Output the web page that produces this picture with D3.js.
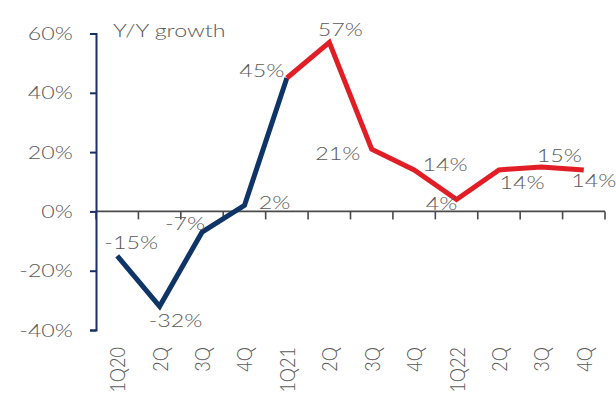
<!DOCTYPE html>
<html>
<head>
<meta charset="utf-8">
<script src="https://cdn.jsdelivr.net/npm/d3@7"></script>
<style>
  html, body { margin: 0; padding: 0; background: #fff; }
  svg { display: block; }
  text { font-family: Lato, "Open Sans", sans-serif; font-weight: 300; fill: #595959; }
</style>
</head>
<body>
<svg id="chart" width="616" height="396"></svg>
<script>
// Quarterly year-over-year growth, %
const quarters = ["1Q20", "2Q", "3Q", "4Q", "1Q21", "2Q", "3Q", "4Q", "1Q22", "2Q", "3Q", "4Q"];
const growth = [-15, -32, -7, 2, 45, 57, 21, 14, 4, 14, 15, 14];
const yTicks = [-40, -20, 0, 20, 40, 60];
// first and last quarter index of each coloured segment
const blueSpan = [0, 4];
const redSpan = [4, 11];
// label nudges (px) relative to each point
const labelDx = [14, 16, -17, 30, -25, 11, -34, 31, -15, 23, 18, 10];
const labelDy = [-7, 21, -2, 4, -1, -6, 11, 1, 10, 19, -5, 17];

const svg = d3.select("#chart");
const fontSize = 17.5;   // horizontal text
const stretch = 1.33;    // wide face
const rotSize = 18;      // rotated category labels
const rotStretch = 1.2;

const x = d3.scaleBand().domain(d3.range(quarters.length)).range([96, 605]).paddingInner(0).paddingOuter(0);
const y = d3.scaleLinear().domain([-40, 60]).range([330, 33.5]);
const cx = i => x(i) + x.bandwidth() / 2;

function wideText(sel, px, py) {
  return sel.attr("transform", (d, i) => `translate(${px(d, i)},${py(d, i)}) scale(${stretch},1)`)
    .style("font-size", fontSize + "px");
}

// x axis baseline at zero with boundary ticks
const xAxisG = svg.append("g");
xAxisG.append("line")
  .attr("x1", x.range()[0]).attr("x2", x.range()[1])
  .attr("y1", y(0)).attr("y2", y(0))
  .attr("stroke", "#4a4a4a").attr("stroke-width", 1.6);
const bounds = d3.range(quarters.length).map(i => x(i)).concat([x.range()[1]]);
xAxisG.selectAll("line.tick").data(bounds).join("line")
  .attr("class", "tick")
  .attr("x1", d => d).attr("x2", d => d)
  .attr("y1", y(0)).attr("y2", y(0) + 8)
  .attr("stroke", "#4a4a4a").attr("stroke-width", 1.6);

// category labels, rotated
svg.append("g").selectAll("text").data(quarters).join("text")
  .attr("transform", (d, i) => `translate(${cx(i) + 8},347) scale(${rotStretch},1) rotate(-90)`)
  .attr("text-anchor", "end")
  .style("font-size", rotSize + "px")
  .text(d => d);

// y axis
const yAxis = d3.axisLeft(y).tickValues(yTicks).tickSize(6).tickFormat("");
const yG = svg.append("g").attr("transform", "translate(96,0)").call(yAxis);
yG.select(".domain").attr("stroke", "#1a2f66").attr("stroke-width", 2);
yG.selectAll(".tick line").attr("stroke", "#1a2f66").attr("stroke-width", 2);
svg.append("g").selectAll("text").data(yTicks).join("text")
  .call(wideText, () => 73, d => y(d) + 6.5)
  .attr("text-anchor", "end")
  .text(d => d + "%");

svg.append("g").selectAll("text").data(["Y/Y growth"]).join("text")
  .call(wideText, () => 113, () => 37)
  .text(d => d);

// growth lines
const line = d3.line().x(i => cx(i)).y(i => y(growth[i]));
svg.append("path")
  .attr("d", line(d3.range(blueSpan[0], blueSpan[1] + 1)))
  .attr("fill", "none").attr("stroke", "#0f3566").attr("stroke-width", 5)
  .attr("stroke-linejoin", "miter");
svg.append("path")
  .attr("d", line(d3.range(redSpan[0], redSpan[1] + 1)))
  .attr("fill", "none").attr("stroke", "#e11e26").attr("stroke-width", 5)
  .attr("stroke-linejoin", "miter");

// value labels
svg.append("g").selectAll("text").data(growth).join("text")
  .call(wideText, (d, i) => cx(i) + labelDx[i], (d, i) => y(d) + labelDy[i])
  .attr("text-anchor", "middle")
  .text(d => d + "%");
</script>
</body>
</html>
